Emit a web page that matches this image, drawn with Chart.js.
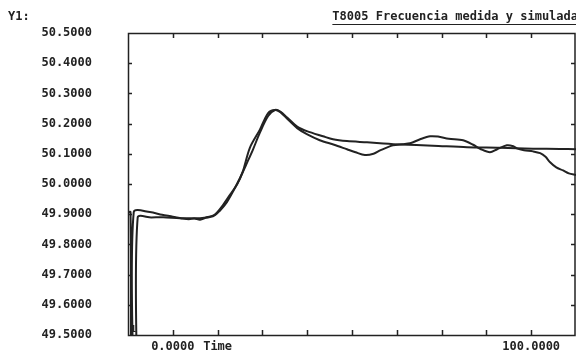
<!DOCTYPE html>
<html>
<head>
<meta charset="utf-8">
<script src="https://cdn.jsdelivr.net/npm/chart.js@4"></script>
<style>
  html, body { margin:0; padding:0; background:#fff; }
  #wrap { width:576px; height:354px; }
</style>
</head>
<body>
<div id="wrap"><canvas id="freqChart" width="576" height="354"></canvas></div>
<script>
// time axis runs a little before 0 and past 100, as on the plotter
const xTicks = { min: -12.5, max: 112.5, step: 12.5 };
const yTicks = { min: 49.5, max: 50.5, step: 0.1 };
const xLabels = { 0: '0.0000', 12.5: 'Time', 100: '100.0000' };

// measured frequency (Hz)
const measTime = [-12.5, -11.8, -11.6, -11.1, -10.9, -6.4, -3.0, 0, 2.5, 4.5, 6, 7.6, 9.5, 11.2, 12.3, 14, 16, 18, 19.5,
  21.5, 24.3, 26.6, 28.5, 30, 32, 34.7, 37.4, 41, 45, 48.6, 51, 53.6, 56, 58, 61.4, 64, 66.2, 69, 71.8, 74, 77, 81,
  83.8, 86, 88.5, 90.5, 93.2, 95, 96, 98, 100.5, 102.5, 104, 105.2, 107, 108.9, 110.5, 112.5];
const measFreq = [49.907, 49.907, 49.30, 49.30, 49.907, 49.907, 49.898, 49.892, 49.886, 49.883, 49.886, 49.882, 49.890,
  49.895, 49.905, 49.93, 49.965, 50.00, 50.04, 50.12, 50.18, 50.235, 50.245, 50.238, 50.215, 50.185, 50.165, 50.145,
  50.13, 50.115, 50.105, 50.096, 50.10, 50.112, 50.128, 50.132, 50.135, 50.148, 50.158, 50.157, 50.15, 50.145, 50.13,
  50.115, 50.105, 50.115, 50.128, 50.125, 50.118, 50.112, 50.108, 50.102, 50.09, 50.073, 50.055, 50.045, 50.035, 50.03];

// simulated frequency (Hz)
const simTime = [-10.0, -9.8, -6, -2.7, 2, 7.6, 11.2, 13, 15.1, 16.8, 18.75, 20.7, 22.4, 24.3, 26.6, 28.5, 30, 31.9,
  34.7, 37.4, 41.9, 44.7, 48.6, 54.2, 57.8, 63.4, 72.6, 82.1, 91.3, 100.5, 108, 112.5];
const simFreq = [49.30, 49.889, 49.889, 49.890, 49.887, 49.887, 49.893, 49.91, 49.94, 49.975, 50.02, 50.07, 50.115,
  50.17, 50.225, 50.245, 50.24, 50.22, 50.19, 50.175, 50.158, 50.148, 50.142, 50.138, 50.135, 50.131, 50.127, 50.122,
  50.12, 50.117, 50.116, 50.115];

const ink = '#222';
const font = 'bold 12px "DejaVu Sans Mono", "Liberation Mono", monospace';

const toPoints = (xs, ys) => xs.map((x, i) => ({ x, y: ys[i] }));

// plotter frame: box, inward ticks, tick labels, headings
const framePlugin = {
  id: 'frame',
  afterDraw(chart) {
    const { ctx, chartArea: a, scales: { x, y } } = chart;
    ctx.save();
    ctx.strokeStyle = ink;
    ctx.lineWidth = 1.5;
    ctx.strokeRect(a.left + 0.5, a.top + 0.5, a.right - a.left - 1.5, a.bottom - a.top);
    ctx.beginPath();
    for (let v = xTicks.min + xTicks.step; v < xTicks.max - 0.01; v += xTicks.step) {
      const px = Math.round(x.getPixelForValue(v)) + 0.5;
      ctx.moveTo(px, a.bottom); ctx.lineTo(px, a.bottom - 5);
      ctx.moveTo(px, a.top); ctx.lineTo(px, a.top + 5);
    }
    for (let i = 1; i < 10; i++) {
      const py = Math.round(y.getPixelForValue(yTicks.min + i * yTicks.step)) + 0.5;
      ctx.moveTo(a.left, py); ctx.lineTo(a.left + 4, py);
      ctx.moveTo(a.right - 1, py); ctx.lineTo(a.right - 5, py);
    }
    ctx.stroke();

    ctx.fillStyle = ink;
    ctx.font = font;
    ctx.textBaseline = 'middle';

    // y tick labels
    ctx.textAlign = 'right';
    for (let i = 0; i <= 10; i++) {
      const v = yTicks.min + i * yTicks.step;
      ctx.fillText(v.toFixed(4), 92, y.getPixelForValue(v));
    }
    // x tick labels
    ctx.textAlign = 'center';
    Object.keys(xLabels).forEach(k => {
      ctx.fillText(xLabels[k], x.getPixelForValue(+k), a.bottom + 12);
    });
    // curve number
    ctx.font = 'bold 9px "DejaVu Sans Mono", monospace';
    ctx.fillText('1', x.getPixelForValue(-11.0), a.bottom - 5);

    ctx.font = font;
    ctx.textAlign = 'left';
    ctx.fillText('Y1:', 8, 17);
    ctx.textAlign = 'right';
    const title = 'T8005 Frecuencia medida y simulada';
    ctx.fillText(title, 578, 17);
    const w = ctx.measureText(title).width;
    ctx.lineWidth = 1.2;
    ctx.beginPath();
    ctx.moveTo(578 - w, 24.5); ctx.lineTo(576, 24.5);
    ctx.stroke();
    ctx.restore();
  }
};

new Chart(document.getElementById('freqChart').getContext('2d'), {
  type: 'line',
  data: {
    datasets: [
      { label: 'Medida', data: toPoints(measTime, measFreq), borderColor: ink, borderWidth: 2, pointRadius: 0, tension: 0.3, fill: false },
      { label: 'Simulada', data: toPoints(simTime, simFreq), borderColor: ink, borderWidth: 2, pointRadius: 0, tension: 0.3, fill: false }
    ]
  },
  options: {
    responsive: false,
    animation: false,
    layout: { padding: { top: 33, right: 0, left: 128, bottom: 19 } },
    plugins: { legend: { display: false }, tooltip: { enabled: false } },
    scales: {
      x: { type: 'linear', min: xTicks.min, max: xTicks.max, display: false },
      y: { min: yTicks.min, max: yTicks.max, display: false }
    }
  },
  plugins: [framePlugin]
});
</script>
</body>
</html>
